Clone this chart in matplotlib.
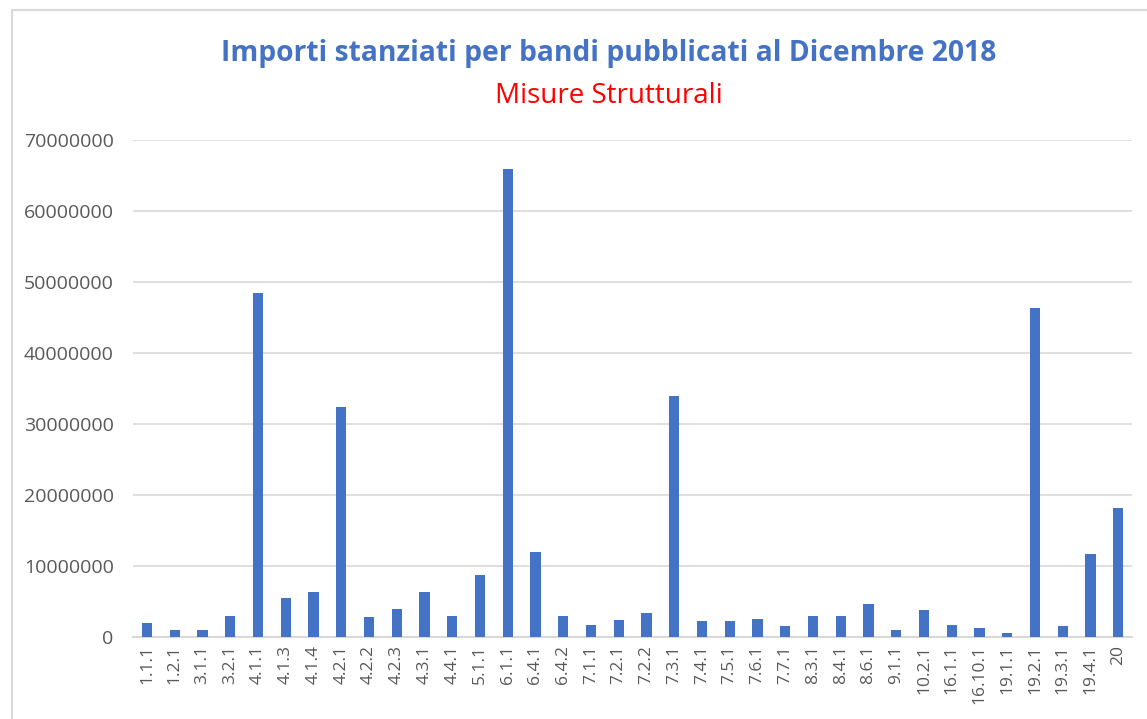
import numpy as np
import matplotlib.pyplot as plt
from matplotlib.patches import Rectangle

# misure e importi stanziati (euro)
misure = ["1.1.1", "1.2.1", "3.1.1", "3.2.1", "4.1.1", "4.1.3", "4.1.4", "4.2.1",
          "4.2.2", "4.2.3", "4.3.1", "4.4.1", "5.1.1", "6.1.1", "6.4.1", "6.4.2",
          "7.1.1", "7.2.1", "7.2.2", "7.3.1", "7.4.1", "7.5.1", "7.6.1", "7.7.1",
          "8.3.1", "8.4.1", "8.6.1", "9.1.1", "10.2.1", "16.1.1", "16.10.1",
          "19.1.1", "19.2.1", "19.3.1", "19.4.1", "20"]
importi = [2000000, 1000000, 1000000, 3000000, 48500000, 5500000, 6400000, 32400000,
           2800000, 4000000, 6400000, 3000000, 8700000, 66000000, 12000000, 3000000,
           1700000, 2400000, 3400000, 33900000, 2300000, 2300000, 2600000, 1500000,
           3000000, 3000000, 4600000, 1000000, 3800000, 1700000, 1300000,
           500000, 46400000, 1500000, 11700000, 18200000]
y_ticks = [0, 10000000, 20000000, 30000000, 40000000, 50000000, 60000000, 70000000]

plt.rcParams['font.family'] = ['Open Sans', 'DejaVu Sans']

fig = plt.figure(figsize=(11.47, 7.19), dpi=100)
# cornice del grafico
fig.patches.append(Rectangle((12 / 1147, -0.01), 1.1, 1 - 10 / 719 + 0.01,
                             transform=fig.transFigure, fill=False,
                             edgecolor='#D9D9D9', linewidth=1.5))

ax = fig.add_axes([0.116, 0.114, 0.871, 0.691])
x = np.arange(len(misure))
ax.bar(x, importi, width=0.37, color='#4472C4', zorder=3)

ax.set_xlim(-0.5, len(misure) - 0.5)
ax.set_ylim(0, 70000000)
ax.set_yticks(y_ticks)
ax.set_yticklabels([str(v) for v in y_ticks])
ax.set_xticks(x)
ax.set_xticklabels(misure, rotation=90)
ax.tick_params(axis='both', length=0, colors='#595959', labelsize=12.5)
ax.tick_params(axis='y', labelsize=14, pad=14)
ax.tick_params(axis='x', pad=6)
ax.grid(axis='y', color='#D9D9D9', linewidth=1.2, zorder=0)
for side in ['left', 'right', 'top']:
    ax.spines[side].set_visible(False)
ax.spines['bottom'].set_color('#D9D9D9')
ax.spines['bottom'].set_linewidth(1.5)

fig.text(0.531, 0.926, "Importi stanziati per bandi pubblicati al Dicembre 2018",
         ha='center', va='center', fontsize=20.3, fontweight='bold', color='#4472C4')
fig.text(0.531, 0.866, "Misure Strutturali", ha='center', va='center',
         fontsize=20, color='#FF0000')

fig.savefig('out.png', dpi=100)
